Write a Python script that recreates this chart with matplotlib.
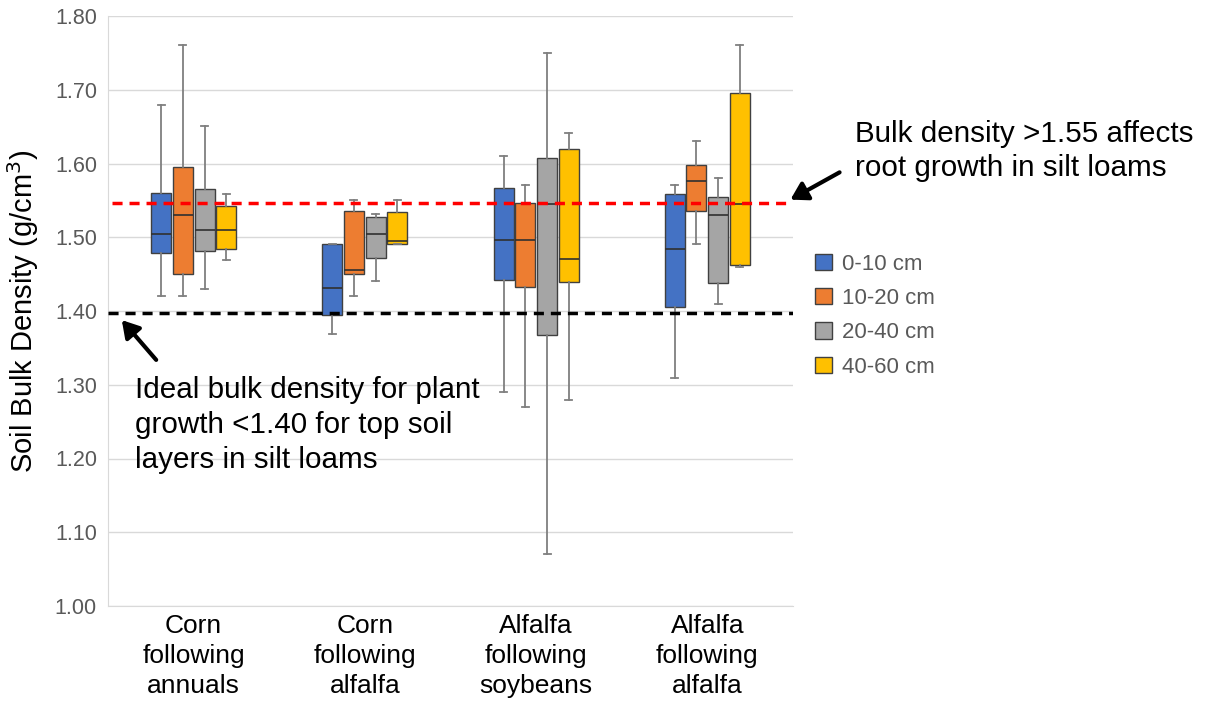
import matplotlib
matplotlib.use("Agg")
import matplotlib.pyplot as plt

plt.rcParams['font.family'] = ['Liberation Sans', 'DejaVu Sans']

# categories and depth series
categories = ["Corn\nfollowing\nannuals", "Corn\nfollowing\nalfalfa",
              "Alfalfa\nfollowing\nsoybeans", "Alfalfa\nfollowing\nalfalfa"]
depths = ["0-10 cm", "10-20 cm", "20-40 cm", "40-60 cm"]
colors = ["#4472C4", "#ED7D31", "#A5A5A5", "#FFC000"]

# box stats per depth, one value per category
whis_lo = {
    "0-10 cm":  [1.420, 1.369, 1.290, 1.309],
    "10-20 cm": [1.420, 1.420, 1.270, 1.491],
    "20-40 cm": [1.430, 1.441, 1.070, 1.409],
    "40-60 cm": [1.469, 1.491, 1.280, 1.460],
}
q1 = {
    "0-10 cm":  [1.479, 1.394, 1.442, 1.406],
    "10-20 cm": [1.450, 1.450, 1.432, 1.535],
    "20-40 cm": [1.482, 1.472, 1.367, 1.438],
    "40-60 cm": [1.484, 1.491, 1.440, 1.462],
}
med = {
    "0-10 cm":  [1.505, 1.431, 1.496, 1.484],
    "10-20 cm": [1.530, 1.456, 1.496, 1.576],
    "20-40 cm": [1.510, 1.505, 1.545, 1.530],
    "40-60 cm": [1.510, 1.495, 1.470, 1.545],
}
q3 = {
    "0-10 cm":  [1.560, 1.491, 1.567, 1.559],
    "10-20 cm": [1.595, 1.536, 1.546, 1.598],
    "20-40 cm": [1.565, 1.527, 1.608, 1.554],
    "40-60 cm": [1.542, 1.534, 1.620, 1.695],
}
whis_hi = {
    "0-10 cm":  [1.680, 1.491, 1.610, 1.571],
    "10-20 cm": [1.761, 1.550, 1.571, 1.630],
    "20-40 cm": [1.651, 1.531, 1.750, 1.581],
    "40-60 cm": [1.559, 1.550, 1.641, 1.761],
}

root_limit = 1.547
ideal_limit = 1.397
yticks = [1.00, 1.10, 1.20, 1.30, 1.40, 1.50, 1.60, 1.70, 1.80]

fig = plt.figure(figsize=(12.06, 7.04), dpi=100)
ax = fig.add_axes([108 / 1206, 1 - 606 / 704, (793 - 108) / 1206, (606 - 16) / 704])

offsets = [-0.19, -0.064, 0.064, 0.19]
handles = []
for j, dep in enumerate(depths):
    stats = []
    for i in range(len(categories)):
        stats.append({"whislo": whis_lo[dep][i], "q1": q1[dep][i], "med": med[dep][i],
                      "q3": q3[dep][i], "whishi": whis_hi[dep][i]})
    pos = [i + 1 + offsets[j] for i in range(len(categories))]
    bp = ax.bxp(stats, positions=pos, widths=0.117, patch_artist=True, showfliers=False,
                capwidths=0.04,
                boxprops=dict(facecolor=colors[j], edgecolor="#404040", linewidth=1.0),
                medianprops=dict(color="#303030", linewidth=1.2),
                whiskerprops=dict(color="#7F7F7F", linewidth=1.3),
                capprops=dict(color="#7F7F7F", linewidth=1.3),
                manage_ticks=False, zorder=3)
    handles.append(bp["boxes"][0])

ax.axhline(root_limit, xmin=0.006, xmax=1.0, color="red", lw=2.5, ls=(0, (2.9, 2.0)), zorder=4)
ax.axhline(ideal_limit, color="black", lw=2.5, ls=(0, (2.9, 2.0)), zorder=4)

ax.set_xlim(0.5, 4.5)
ax.set_ylim(1.0, 1.8)
ax.set_yticks(yticks)
ax.set_yticklabels([f"{v:.2f}" for v in yticks], fontsize=15.5, color="#595959")
ax.set_xticks(range(1, 5))
ax.set_xticklabels(categories, fontsize=19, linespacing=1.32)
ax.tick_params(length=0, axis="y", pad=8)
ax.tick_params(length=0, axis="x", pad=6)
ax.grid(axis="y", color="#D9D9D9", lw=1)
ax.set_axisbelow(True)
for s in ["top", "right"]:
    ax.spines[s].set_visible(False)
for s in ["left", "bottom"]:
    ax.spines[s].set_color("#D9D9D9")

ax.set_ylabel("Soil Bulk Density (g/cm$^3$)", fontsize=21, labelpad=10)

leg = ax.legend(handles, depths, loc="center left", bbox_to_anchor=(1.003, 0.492),
                frameon=False, fontsize=16, handlelength=0.75, handleheight=0.75,
                handletextpad=0.45, labelspacing=0.6)
for t in leg.get_texts():
    t.set_color("#595959")

fig.text(855 / 1206, 1 - 151 / 704, "Bulk density >1.55 affects\nroot growth in silt loams",
         fontsize=21.3, va="center", ha="left", linespacing=1.27)
fig.text(135 / 1206, 1 - 425 / 704, "Ideal bulk density for plant\ngrowth <1.40 for top soil\nlayers in silt loams",
         fontsize=21.3, va="center", ha="left", linespacing=1.3)

fig.patches.append(matplotlib.patches.FancyArrowPatch(
    (842 / 1206, 1 - 171 / 704), (788 / 1206, 1 - 201 / 704), transform=fig.transFigure,
    arrowstyle="-|>,head_length=10,head_width=6", color="black", lw=3, mutation_scale=1))
fig.patches.append(matplotlib.patches.FancyArrowPatch(
    (158 / 1206, 1 - 362 / 704), (120 / 1206, 1 - 318 / 704), transform=fig.transFigure,
    arrowstyle="-|>,head_length=10,head_width=6", color="black", lw=3, mutation_scale=1))

fig.savefig("out.png", dpi=100)
